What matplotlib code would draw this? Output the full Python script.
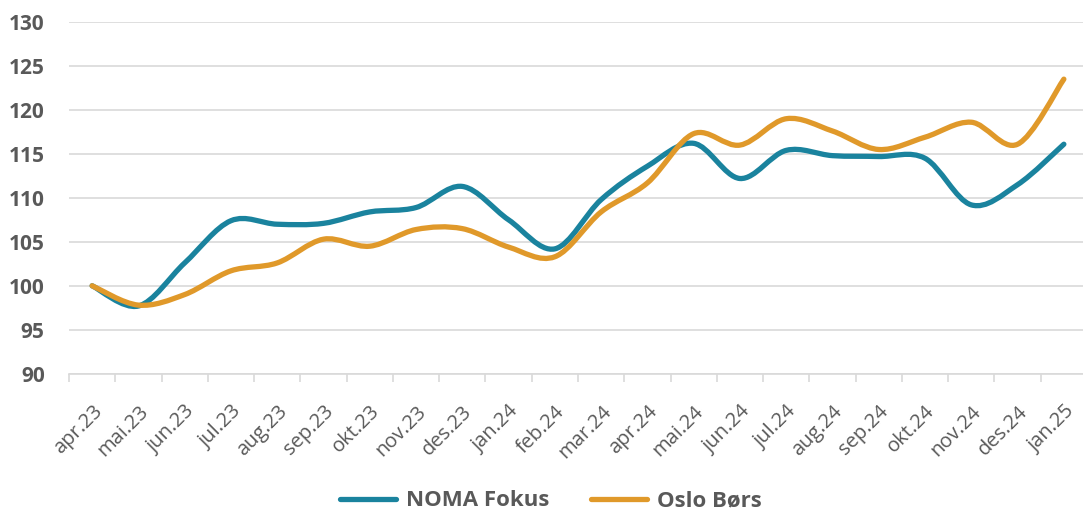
import matplotlib
matplotlib.use("Agg")
import matplotlib.pyplot as plt
from matplotlib.path import Path
from matplotlib.patches import PathPatch
from matplotlib.lines import Line2D
from matplotlib.ticker import FixedLocator

months = ["apr.23", "mai.23", "jun.23", "jul.23", "aug.23", "sep.23", "okt.23",
          "nov.23", "des.23", "jan.24", "feb.24", "mar.24", "apr.24", "mai.24",
          "jun.24", "jul.24", "aug.24", "sep.24", "okt.24", "nov.24", "des.24",
          "jan.25"]
noma_fokus = [100.0, 97.7, 102.6, 107.4, 107.0, 107.1, 108.4, 108.9, 111.3, 107.5,
              104.2, 109.8, 113.6, 116.2, 112.2, 115.4, 114.8, 114.7, 114.5, 109.2,
              111.5, 116.1]
oslo_bors = [100.0, 97.8, 99.0, 101.7, 102.6, 105.3, 104.5, 106.4, 106.5, 104.4,
             103.3, 108.4, 111.7, 117.3, 116.0, 119.0, 117.6, 115.5, 116.9, 118.6,
             116.1, 123.5]
series_names = ["NOMA Fokus", "Oslo Børs"]
y_ticks = [90, 95, 100, 105, 110, 115, 120, 125, 130]

colors = ["#1A839E", "#E0992A"]

W, H = 1083, 513
fig = plt.figure(figsize=(W / 100, H / 100), dpi=100)
ax = fig.add_axes([69 / W, (H - 373.7) / H, (1087 - 69) / W, (373.7 - 22) / H])


def smooth_path(xs, ys):
    pts = list(zip(xs, ys))
    n = len(pts)
    verts = [pts[0]]
    codes = [Path.MOVETO]
    for i in range(n - 1):
        p0 = pts[i - 1] if i > 0 else pts[i]
        p1 = pts[i]
        p2 = pts[i + 1]
        p3 = pts[i + 2] if i + 2 < n else pts[i + 1]
        c1 = (p1[0] + (p2[0] - p0[0]) / 6, p1[1] + (p2[1] - p0[1]) / 6)
        c2 = (p2[0] - (p3[0] - p1[0]) / 6, p2[1] - (p3[1] - p1[1]) / 6)
        verts += [c1, c2, p2]
        codes += [Path.CURVE4] * 3
    return Path(verts, codes)


x = list(range(len(months)))
for vals, c in zip([noma_fokus, oslo_bors], colors):
    patch = PathPatch(smooth_path(x, vals), fill=False, edgecolor=c, lw=3.8,
                      capstyle="round", joinstyle="round", zorder=3)
    ax.add_patch(patch)

ax.set_xlim(-0.5, len(months) - 0.5)
ax.set_ylim(90, 130)
ax.set_yticks(y_ticks)
ax.grid(axis="y", color="#D9D9D9", lw=1.2, zorder=0)
for s in ["top", "right", "left"]:
    ax.spines[s].set_visible(False)
ax.spines["bottom"].set_color("#D9D9D9")
ax.spines["bottom"].set_linewidth(1.2)

ax.tick_params(axis="y", length=0, pad=17.5, labelsize=15, labelcolor="#595959")
for lab in ax.get_yticklabels():
    lab.set_fontweight("bold")

ax.set_xticks(x)
ax.set_xticklabels(months, rotation=45, ha="right", va="top",
                   rotation_mode="anchor", fontsize=14.5, color="#595959")
ax.tick_params(axis="x", which="major", length=0, pad=20)
ax.xaxis.set_minor_locator(FixedLocator([i - 0.5 for i in range(len(months) + 1)]))
ax.tick_params(axis="x", which="minor", length=5.5, width=1.2, color="#D9D9D9")

handles = [Line2D([], [], color=c, lw=3.8, solid_capstyle="round") for c in colors]
leg = fig.legend(handles, series_names, loc="center", bbox_to_anchor=(551 / W, 1 - 501 / H),
                 ncol=2, frameon=False, handlelength=2.5, columnspacing=1.9,
                 handletextpad=0.45,
                 prop={"family": "Open Sans", "weight": "bold", "size": 16})
for t in leg.get_texts():
    t.set_color("#595959")

for lab in ax.get_xticklabels() + ax.get_yticklabels():
    lab.set_family("Open Sans")

fig.savefig("out.png", dpi=100)
